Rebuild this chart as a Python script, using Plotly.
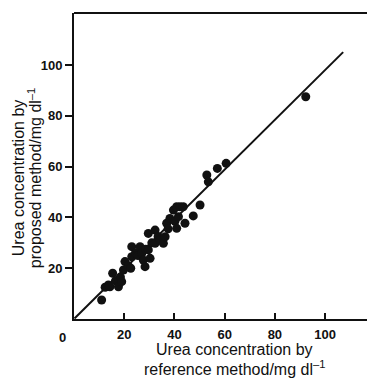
import plotly.graph_objects as go

# Urea concentration (mg/dl): reference method vs proposed method
reference_mg_dl = [
    11.0, 12.4, 13.7, 14.3, 15.4, 16.5, 17.7, 18.5, 19.0, 19.7,
    20.3, 21.6, 22.6, 23.0, 23.0, 24.5, 25.5, 26.3, 27.0, 27.6,
    28.3, 28.5, 29.6, 29.6, 30.3, 31.0, 32.3, 32.3, 33.5, 34.3,
    35.6, 36.3, 36.9, 37.5, 38.2, 39.6, 40.2, 40.9, 40.9, 41.6,
    42.2, 43.5, 44.2, 47.5, 50.2, 52.9, 53.5, 57.1, 60.6, 92.3,
]
proposed_mg_dl = [
    7.5, 12.5, 13.4, 12.7, 18.0, 15.0, 12.7, 16.5, 14.7, 19.3,
    22.6, 21.0, 20.0, 24.5, 28.5, 26.0, 25.0, 28.5, 25.9, 23.2,
    20.6, 27.5, 33.7, 27.2, 23.9, 30.0, 35.0, 29.8, 32.5, 31.1,
    29.8, 32.4, 37.7, 35.5, 39.6, 42.9, 38.5, 44.2, 35.7, 40.3,
    44.2, 44.2, 37.7, 40.6, 44.9, 56.7, 54.0, 59.3, 61.3, 87.5,
]

# Fitted line end points
fit_x = [0.2, 107.2]
fit_y = [0.2, 105.1]

x_ticks = [20, 40, 60, 80, 100]
y_ticks = [20, 40, 60, 80, 100]

x_title_lines = ["Urea concentration by", "reference method/mg dl<sup>\u20131</sup>"]
y_title_lines = ["Urea concentration by", "proposed method/mg dl<sup>\u20131</sup>"]

FONT = "Liberation Sans, Arial, sans-serif"
INK = "#111111"
TICK_FONT = dict(size=13, family=FONT, weight="bold", color=INK)
TITLE_FONT = dict(size=16, family=FONT, color=INK)

fig = go.Figure()
fig.add_trace(go.Scatter(
    x=fit_x, y=fit_y, mode="lines",
    line=dict(color=INK, width=2), showlegend=False, hoverinfo="skip",
))
fig.add_trace(go.Scatter(
    x=reference_mg_dl, y=proposed_mg_dl, mode="markers",
    marker=dict(color=INK, size=9, line=dict(width=0)), showlegend=False,
))

annotations = [
    dict(text="0", x=0, y=0, xref="x", yref="paper", xanchor="center", yanchor="top",
         xshift=-12, yshift=-9, showarrow=False, font=TICK_FONT),
]
# x-axis title, one annotation per line, centred below the plot
for i, line in enumerate(x_title_lines):
    annotations.append(dict(
        text=line, x=64, y=0, xref="x", yref="paper", xanchor="center", yanchor="middle",
        yshift=-(30 + 19 * i), showarrow=False, font=TITLE_FONT))
# y-axis title, rotated, one annotation per line
for i, line in enumerate(y_title_lines):
    annotations.append(dict(
        text=line, x=0, y=0.46, xref="paper", yref="paper", xanchor="center", yanchor="middle",
        xshift=-(56 - 17 * i), textangle=-90, showarrow=False, font=TITLE_FONT))

fig.update_layout(
    width=367, height=379,
    margin=dict(l=74, r=0, t=13, b=60),
    paper_bgcolor="white", plot_bgcolor="white",
    font=dict(family=FONT, color=INK),
    xaxis=dict(
        range=[0, 116.7], tickvals=x_ticks, ticktext=[str(v) for v in x_ticks],
        ticks="inside", ticklen=6, tickwidth=1.5, tickcolor=INK,
        ticklabelstandoff=2,
        showline=True, linecolor=INK, linewidth=1.8,
        showgrid=False, zeroline=False,
        tickfont=TICK_FONT,
    ),
    yaxis=dict(
        range=[0, 120.5], tickvals=y_ticks, ticktext=[str(v) for v in y_ticks],
        ticks="outside", ticklen=7, tickwidth=1.5, tickcolor=INK,
        showline=True, linecolor=INK, linewidth=1.8,
        showgrid=False, zeroline=False,
        tickfont=TICK_FONT,
    ),
    shapes=[dict(type="line", xref="paper", yref="paper", x0=0, x1=1, y0=1, y1=1,
                 line=dict(color=INK, width=1.8))],
    annotations=annotations,
)

fig.write_html("out.html")
